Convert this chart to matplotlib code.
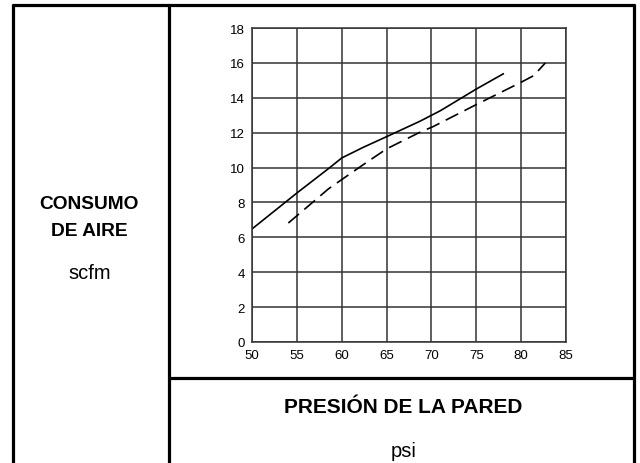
import matplotlib
matplotlib.use("Agg")
import matplotlib.pyplot as plt
from matplotlib.lines import Line2D

plt.rcParams['font.family'] = ['Liberation Sans', 'DejaVu Sans']

solid_x = [50, 55.1, 58.7, 60, 62.4, 65, 68.7, 71, 75, 78]
solid_y = [6.48, 8.58, 10.01, 10.55, 11.16, 11.77, 12.65, 13.26, 14.5, 15.37]
dash_x = [54.05, 58.5, 60, 62.5, 65, 68.7, 70.2, 75, 80, 81.4, 82.7]
dash_y = [6.82, 8.77, 9.31, 10.2, 11.07, 12.02, 12.35, 13.61, 14.89, 15.27, 16.0]
xticks = [50, 55, 60, 65, 70, 75, 80, 85]
yticks = [0, 2, 4, 6, 8, 10, 12, 14, 16, 18]

W, H = 640, 464
fig = plt.figure(figsize=(6.4, 4.64), dpi=100)

def fx(px):
    return px / W

def fy(py):
    return 1 - py / H

ax = fig.add_axes([fx(252), fy(343), fx(566) - fx(252), fy(29) - fy(343)])
ax.plot(solid_x, solid_y, color='black', lw=1.2)
ax.plot(dash_x, dash_y, color='black', lw=1.2, linestyle=(0, (8.4, 4.2)))
ax.set_xlim(50, 85)
ax.set_ylim(0, 18)
ax.set_xticks(xticks)
ax.set_yticks(yticks)
ax.grid(True, color='#333333', lw=1.1)
ax.set_axisbelow(True)
for s in ax.spines.values():
    s.set_color('#333333')
    s.set_linewidth(1.1)
ax.tick_params(length=0, labelsize=9.5, pad=5)

lw_b = 2.3
borders = [
    ((13, 13), (5, 464)),
    ((11.5, 634.5), (5.5, 5.5)),
    ((633.5, 633.5), (5, 464)),
    ((168.5, 168.5), (5, 464)),
    ((168.5, 634.5), (378.5, 378.5)),
]
for xs, ys in borders:
    fig.add_artist(Line2D([fx(x) for x in xs], [fy(y) for y in ys], color='black',
                          lw=lw_b, transform=fig.transFigure, solid_capstyle='butt'))

fig.text(fx(89), fy(209), 'CONSUMO', ha='center', va='baseline', fontsize=13.8, fontweight='bold')
fig.text(fx(89), fy(236.5), 'DE AIRE', ha='center', va='baseline', fontsize=13.8, fontweight='bold')
fig.text(fx(90), fy(279), 'scfm', ha='center', va='baseline', fontsize=14.5)
fig.text(fx(403), fy(413.3), 'PRESIÓN DE LA PARED', ha='center', va='baseline', fontsize=15, fontweight='bold')
fig.text(fx(404), fy(457), 'psi', ha='center', va='baseline', fontsize=14.5)

fig.savefig('out.png', dpi=100)
